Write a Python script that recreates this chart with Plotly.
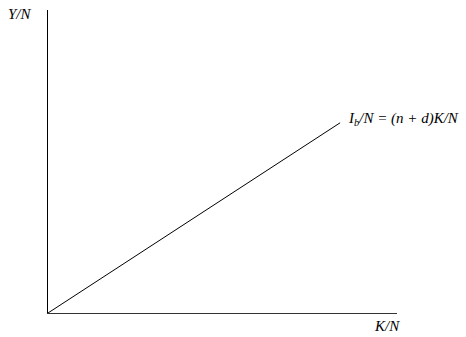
import plotly.graph_objects as go

# Capital per worker and the break-even investment line I_b/N = (n + d)K/N
k_per_worker = [0.0, 0.837]
n_plus_d = 0.75
inv_per_worker = [n_plus_d * k for k in k_per_worker]

W, H = 466, 337
ml, mr, mt, mb = 48, 69, 10, 24
pw, ph = W - ml - mr, H - mt - mb

fig = go.Figure()
fig.add_trace(go.Scatter(
    x=k_per_worker, y=inv_per_worker, mode="lines",
    line=dict(color="black", width=1), hoverinfo="skip", showlegend=False,
))

font = dict(family="Liberation Serif", size=15, color="black")

fig.update_layout(
    width=W, height=H,
    margin=dict(l=ml, r=mr, t=mt, b=mb, pad=0),
    paper_bgcolor="white", plot_bgcolor="white",
    xaxis=dict(range=[0, 1], showline=True, linecolor="#333", linewidth=1,
               showgrid=False, zeroline=False, showticklabels=False, ticks=""),
    yaxis=dict(range=[0, 1], showline=True, linecolor="black", linewidth=1,
               showgrid=False, zeroline=False, showticklabels=False, ticks=""),
    font=font,
)

fig.add_annotation(text="<i>Y/N</i>", xref="paper", yref="paper",
                   x=(20 - ml) / pw, y=1 - (14 - mt) / ph,
                   xanchor="center", yanchor="middle", showarrow=False, font=font)
fig.add_annotation(text="<i>K/N</i>", xref="paper", yref="paper",
                   x=(387 - ml) / pw, y=-(326 - (H - mb)) / ph,
                   xanchor="center", yanchor="middle", showarrow=False, font=font)
fig.add_annotation(text="<i>I<sub>b</sub>/N = (n + d)K/N</i>",
                   x=k_per_worker[-1], y=inv_per_worker[-1], xref="x", yref="y",
                   xanchor="left", yanchor="middle", xshift=6, yshift=4,
                   showarrow=False, font=font)

fig.write_html("out.html")
